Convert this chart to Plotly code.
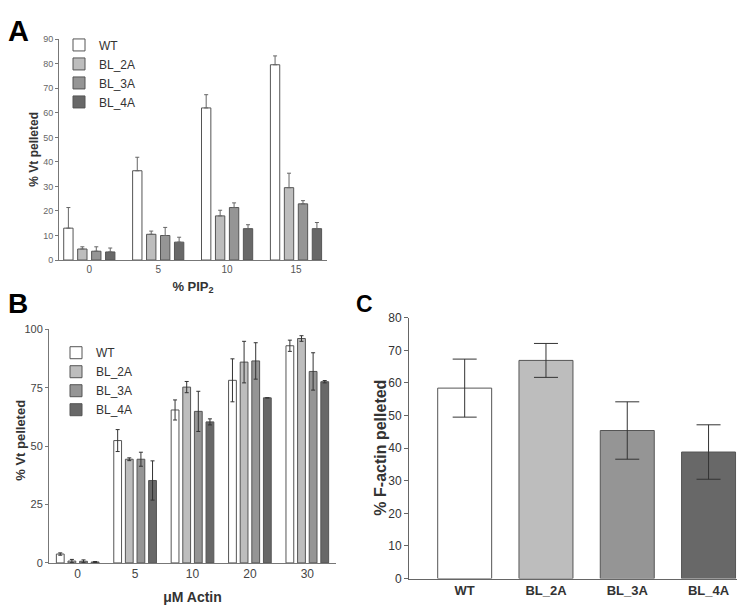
import plotly.graph_objects as go

W, H = 738, 609
FONT = "Arial, Liberation Sans, sans-serif"

series = ["WT", "BL_2A", "BL_3A", "BL_4A"]
colors = ["#ffffff", "#bdbdbd", "#959595", "#686868"]

# Panel A: % Vt pelleted vs % PIP2 (upper error only)
pip2 = ["0", "5", "10", "15"]
a_vals = {
    "WT":    [13.0, 36.4, 62.0, 79.6],
    "BL_2A": [4.5, 10.5, 18.0, 29.5],
    "BL_3A": [3.6, 10.0, 21.4, 22.9],
    "BL_4A": [3.3, 7.3, 12.8, 12.8],
}
a_err = {
    "WT":    [8.4, 5.5, 5.4, 3.6],
    "BL_2A": [0.9, 1.3, 2.3, 5.9],
    "BL_3A": [1.8, 3.3, 1.9, 1.3],
    "BL_4A": [1.6, 2.0, 1.6, 2.5],
}

# Panel B: % Vt pelleted vs uM actin
actin = ["0", "5", "10", "20", "30"]
b_vals = {
    "WT":    [3.8, 52.4, 65.5, 78.2, 93.0],
    "BL_2A": [0.8, 44.4, 75.3, 86.0, 96.1],
    "BL_3A": [0.7, 44.4, 64.9, 86.5, 82.0],
    "BL_4A": [0.4, 35.3, 60.4, 70.7, 77.6],
}
b_err = {
    "WT":    [0.5, 4.7, 4.3, 9.2, 2.4],
    "BL_2A": [0.7, 0.6, 2.4, 8.9, 1.2],
    "BL_3A": [0.6, 3.0, 8.6, 7.8, 8.0],
    "BL_4A": [0.2, 8.4, 1.3, 0.0, 0.5],
}

# Panel C: % F-actin pelleted
c_vals = [58.4, 66.9, 45.4, 38.8]
c_err = [8.9, 5.2, 8.8, 8.35]


def px(x):
    return x / W


def py(y):
    return 1 - y / H


fig = go.Figure()
line_col = "#555555"

for s, c in zip(series, colors):
    fig.add_trace(go.Bar(
        x=pip2, y=a_vals[s], name=s, xaxis="x", yaxis="y", legend="legend",
        marker=dict(color=c, line=dict(color=line_col, width=1)),
        error_y=dict(type="data", symmetric=False, array=a_err[s],
                     arrayminus=[0] * len(pip2), color="#666666",
                     thickness=1, width=2),
    ))
for s, c in zip(series, colors):
    fig.add_trace(go.Bar(
        x=actin, y=b_vals[s], name=s, xaxis="x2", yaxis="y2", legend="legend2",
        marker=dict(color=c, line=dict(color=line_col, width=1)),
        error_y=dict(type="data", array=b_err[s], color="#333333",
                     thickness=1, width=2),
    ))
fig.add_trace(go.Bar(
    x=series, y=c_vals, xaxis="x3", yaxis="y3", showlegend=False, width=0.664,
    marker=dict(color=colors, line=dict(color=line_col, width=1)),
    error_y=dict(type="data", array=c_err, color="#333333", thickness=1, width=12),
))

axis_common = dict(showgrid=False, zeroline=False, showline=True, linewidth=1,
                   fixedrange=True)


def ytitle(text, x, y, size):
    return dict(text="<b>%s</b>" % text, x=px(x), y=py(y), xref="paper",
                yref="paper", xanchor="center", yanchor="middle",
                textangle=-90, showarrow=False,
                font=dict(size=size, color="#333333"))


fig.update_layout(
    width=W, height=H, margin=dict(l=0, r=0, t=0, b=0),
    paper_bgcolor="white", plot_bgcolor="white",
    font=dict(family=FONT, color="#222222"),
    barmode="group", bargap=0.19, bargroupgap=0.33,
    xaxis=dict(domain=[px(59), px(327)], anchor="y", type="category",
               categoryorder="array", categoryarray=pip2,
               range=[-0.44, 3.45], linecolor="#777777", ticks="",
               tickfont=dict(size=10, color="#555555"),
               title=dict(text="% PIP<sub>2</sub>", standoff=7,
                          font=dict(size=13, weight="bold", color="#333333")),
               **axis_common),
    yaxis=dict(domain=[py(259), py(33)], anchor="x", range=[0, 90],
               tickvals=list(range(0, 91, 10)), linecolor="#777777",
               ticks="outside", ticklen=3, tickcolor="#777777",
               tickfont=dict(size=9, color="#666666"),
               **axis_common),
    xaxis2=dict(domain=[px(49), px(336)], anchor="y2", type="category",
                categoryorder="array", categoryarray=actin,
                range=[-0.5, 4.5], linecolor="#777777", ticks="",
                tickfont=dict(size=12, color="#444444"),
                title=dict(text="μM Actin", standoff=11,
                           font=dict(size=14, weight="bold", color="#333333")),
                **axis_common),
    yaxis2=dict(domain=[py(569), py(330)], anchor="x2", range=[0, 100],
                tickvals=[0, 25, 50, 75, 100], linecolor="#777777",
                ticks="outside", ticklen=3, tickcolor="#777777",
                tickfont=dict(size=11, color="#444444"),
                **axis_common),
    xaxis3=dict(domain=[px(409), px(737)], anchor="y3", type="category",
                categoryorder="array", categoryarray=series,
                range=[-0.685, 3.35], linecolor="#666666", ticks="",
                tickfont=dict(size=13, weight="bold", color="#333333"),
                **axis_common),
    yaxis3=dict(domain=[py(585), py(318)], anchor="x3", range=[0, 80],
                tickvals=list(range(0, 81, 10)), linecolor="#666666",
                ticks="outside", ticklen=4, tickcolor="#666666",
                tickfont=dict(size=12, color="#333333"),
                **axis_common),
    legend=dict(x=px(59), y=py(24), xanchor="left", yanchor="top",
                font=dict(size=12, color="#333333"), bgcolor="rgba(0,0,0,0)",
                tracegroupgap=0, itemclick=False, itemdoubleclick=False),
    legend2=dict(x=px(56), y=py(339), xanchor="left", yanchor="top",
                 font=dict(size=12, color="#333333"), bgcolor="rgba(0,0,0,0)",
                 tracegroupgap=0, itemclick=False, itemdoubleclick=False),
    annotations=[
        dict(text="<b>A</b>", x=px(6), y=py(6), xref="paper", yref="paper",
             xanchor="left", yanchor="top", showarrow=False,
             font=dict(size=29, color="#000000")),
        dict(text="<b>B</b>", x=px(6), y=py(286), xref="paper", yref="paper",
             xanchor="left", yanchor="top", showarrow=False,
             font=dict(size=28, color="#000000")),
        dict(text="<b>C</b>", x=px(354), y=py(289), xref="paper", yref="paper",
             xanchor="left", yanchor="top", showarrow=False,
             font=dict(size=23, color="#000000")),
        ytitle("% Vt pelleted", 34, 146, 12),
        ytitle("% Vt pelleted", 21, 444, 13),
        ytitle("% F-actin pelleted", 381, 451, 16),
    ],
)

fig.write_html("out.html")
